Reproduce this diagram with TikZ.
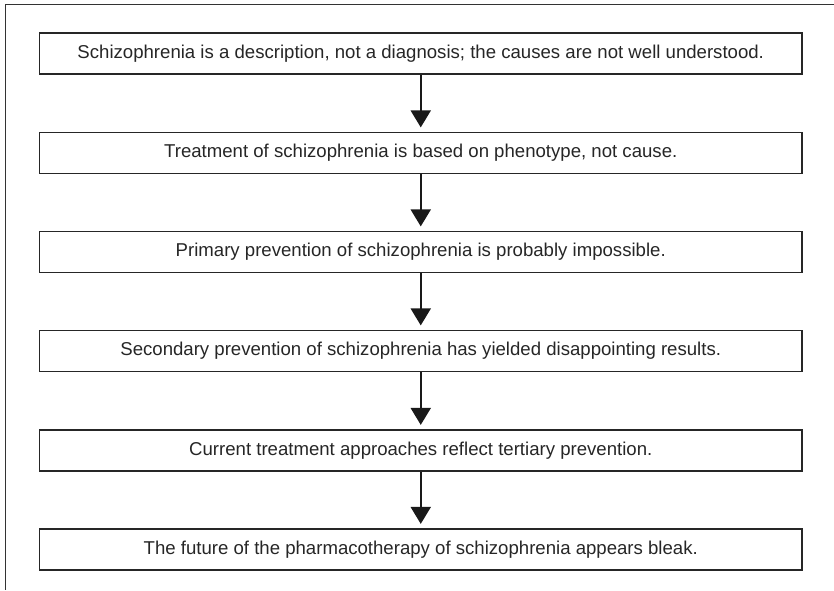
\documentclass[tikz,border=0pt]{standalone}
\usepackage{fontspec}
\setmainfont{Liberation Sans}
\usetikzlibrary{arrows.meta}
\begin{document}
\begin{tikzpicture}[x=1pt,y=-1pt,
  stepbox/.style={draw=black!85,line width=1.2pt,minimum width=762.5pt,minimum height=41pt,inner sep=0pt,font=\fontsize{18.6}{22}\selectfont,text=black!85},
  flow/.style={line width=2pt,draw=black!90,-{Triangle[width=20pt,length=17pt]},shorten >=4.5pt}]
\useasboundingbox (0,0) rectangle (834,590);
\draw[line width=1pt,black!80] (834,4.3) -- (5,4.3) -- (5,590);
\node[stepbox] (b1) at (420.75,53.5) {Schizophrenia is a description, not a diagnosis; the causes are not well understood.};
\node[stepbox] (b2) at (420.75,153) {Treatment of schizophrenia is based on phenotype, not cause.};
\node[stepbox] (b3) at (420.75,252) {Primary prevention of schizophrenia is probably impossible.};
\node[stepbox] (b4) at (420.75,351) {Secondary prevention of schizophrenia has yielded disappointing results.};
\node[stepbox] (b5) at (420.75,450.5) {Current treatment approaches reflect tertiary prevention.};
\node[stepbox] (b6) at (420.75,549.5) {The future of the pharmacotherapy of schizophrenia appears bleak.};
\foreach \a/\b in {b1/b2,b2/b3,b3/b4,b4/b5,b5/b6}
  \draw[flow] (\a.south) -- (\b.north);
\end{tikzpicture}
\end{document}
